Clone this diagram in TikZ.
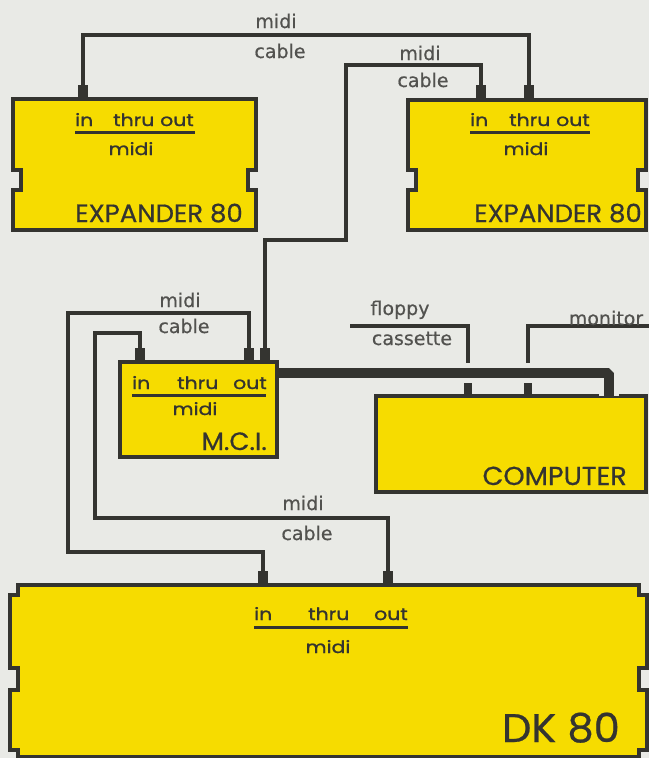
\documentclass[tikz,border=0pt]{standalone}
\usepackage{fontspec}
\newfontfamily\boxfont[FakeStretch=1.2,FakeBold=1.2]{Poppins}
\newfontfamily\namefont[FakeStretch=1.04,FakeBold=0.6]{Poppins}
\newfontfamily\cablefont[FakeBold=0.5]{DejaVu Sans}
\definecolor{bgc}{RGB}{233,234,230}
\definecolor{yel}{RGB}{246,220,0}
\definecolor{ink}{RGB}{52,52,48}

\begin{document}
\begin{tikzpicture}[x=1pt,y=-1pt,
  unit/.style={fill=yel,draw=ink,line width=3.2pt},
  cable/.style={draw=ink,line width=3.4pt},
  plug/.style={fill=ink,inner sep=0pt,minimum width=10pt,minimum height=14pt},
  lbl/.style={inner sep=0pt,anchor=base,text=ink!85,font=\cablefont\fontsize{19}{19}\selectfont},
  port/.style={inner sep=0pt,anchor=base west,text=ink,font=\boxfont\fontsize{17}{17}\selectfont},
  title/.style={inner sep=0pt,anchor=base east,text=ink,font=\namefont\fontsize{25}{25}\selectfont}]
  \useasboundingbox[fill=bgc] (0,0) rectangle (649,758);

  % 机箱外框
  \draw[unit] (13,99) -- (256,99) -- (256,170) -- (248,170) -- (248,190) -- (256,190)
    -- (256,230) -- (13,230) -- (13,190) -- (21,190) -- (21,170) -- (13,170) -- cycle;
  \draw[unit] (408,100) -- (646,100) -- (646,170) -- (638,170) -- (638,190) -- (646,190)
    -- (646,230) -- (408,230) -- (408,190) -- (416,190) -- (416,170) -- (408,170) -- cycle;
  \draw[unit] (18,585) -- (639,585) -- (639,595) -- (647,595) -- (647,668) -- (639,668)
    -- (639,690) -- (647,690) -- (647,750) -- (639,750) -- (639,757) -- (18,757)
    -- (18,750) -- (10,750) -- (10,690) -- (18,690) -- (18,668) -- (10,668)
    -- (10,595) -- (18,595) -- cycle;
  \node[unit,minimum width=157pt,minimum height=95pt] (mci) at (198.5,409.5) {};
  \node[unit,minimum width=270pt,minimum height=96pt] (comp) at (511,444) {};

  % 插头
  \node[plug] (e1in) at (83,92) {};
  \node[plug] (e2in) at (481,92) {};
  \node[plug] (e2thru) at (529,92) {};
  \node[plug] (min) at (140,355) {};
  \node[plug] (mthru) at (249,355) {};
  \node[plug] (mout) at (265,355) {};
  \node[plug] (dkin) at (263,578) {};
  \node[plug] (dkout) at (388,578) {};
  \node[plug,minimum width=8pt,minimum height=12pt] (cfd) at (468,389) {};
  \node[plug,minimum width=8pt,minimum height=12pt] (cmon) at (528,389) {};

  % 连线拐点
  \coordinate (ctop) at (300,35);
  \coordinate (c2a) at (346,240);
  \coordinate (c2b) at (346,65);
  \coordinate (c3a) at (68,313);
  \coordinate (c3b) at (68,552);
  \coordinate (c4a) at (95,333);
  \coordinate (c4b) at (95,518);
  \coordinate (fd) at (350,326);
  \coordinate (mon) at (649,326);
  \coordinate (bar0) at (277,373);
  \coordinate (bar1) at (609,373);
  \coordinate (bar2) at (609,396);

  % midi 电缆
  \draw[cable] (e1in.north) |- (ctop) -| (e2thru.north);
  \draw[cable] (mout.north) |- (c2a) -- (c2b) -| (e2in.north);
  \draw[cable] (mthru.north) |- (c3a) -- (c3b) -| (dkin.north);
  \draw[cable] (min.north) |- (c4a) -- (c4b) -| (dkout.north);
  \draw[cable] (cfd.north) |- (fd);
  \draw[cable] (cmon.north) |- (mon);

  % 粗电缆
  \draw[bgc,line width=20pt,line join=bevel] ([xshift=2pt]bar0) -- (bar1) -- (bar2);
  \draw[ink,line width=10pt,line join=bevel] (bar0) -- (bar1) -- (bar2);

  % 电缆标注
  \node[lbl] (l1a) at (276,28) {midi};
  \node[lbl] (l1b) at (280,58) {cable};
  \node[lbl] (l2a) at (420,60) {midi};
  \node[lbl] (l2b) at (423,87) {cable};
  \node[lbl] (l3a) at (180,307) {midi};
  \node[lbl] (l3b) at (184,333) {cable};
  \node[lbl] (l4a) at (303,510) {midi};
  \node[lbl] (l4b) at (307,540) {cable};
  \node[lbl] (lfd) at (400,315) {floppy};
  \node[lbl] (lcs) at (412,345) {cassette};
  \node[lbl] (lmon) at (606,325) {monitor};

  % 机箱文字
  \node[port] (e1pi) at (75,126) {in};
  \node[port] (e1pt) at (113,126) {thru};
  \node[port] (e1po) at (160,126) {out};
  \draw[ink,line width=3pt] (75,132) -- (195,132);
  \node[port,anchor=base] (e1m) at (131,155) {midi};
  \node[title] (e1t) at (243,222) {EXPANDER 80};

  \node[port] (e2pi) at (470,126) {in};
  \node[port] (e2pt) at (509,126) {thru};
  \node[port] (e2po) at (556,126) {out};
  \draw[ink,line width=3pt] (470,132) -- (590,132);
  \node[port,anchor=base] (e2m) at (526,155) {midi};
  \node[title] (e2t) at (642,222) {EXPANDER 80};

  \node[port] (mpi) at (132,389) {in};
  \node[port] (mpt) at (177,389) {thru};
  \node[port] (mpo) at (233,389) {out};
  \draw[ink,line width=3pt] (132,395) -- (266,395);
  \node[port,anchor=base] (mm) at (195,415) {midi};
  \node[title] (mt) at (267,450) {M.C.I.};

  \node[title,font=\namefont\fontsize{26}{26}\selectfont] (ct) at (627,485) {COMPUTER};

  \node[port] (dpi) at (254,620) {in};
  \node[port] (dpt) at (308,620) {thru};
  \node[port] (dpo) at (374,620) {out};
  \draw[ink,line width=3pt] (254,627) -- (408,627);
  \node[port,anchor=base] (dm) at (328,653) {midi};
  \node[title,font=\namefont\fontsize{40}{40}\selectfont] (dt) at (620,742) {DK 80};
\end{tikzpicture}
\end{document}
